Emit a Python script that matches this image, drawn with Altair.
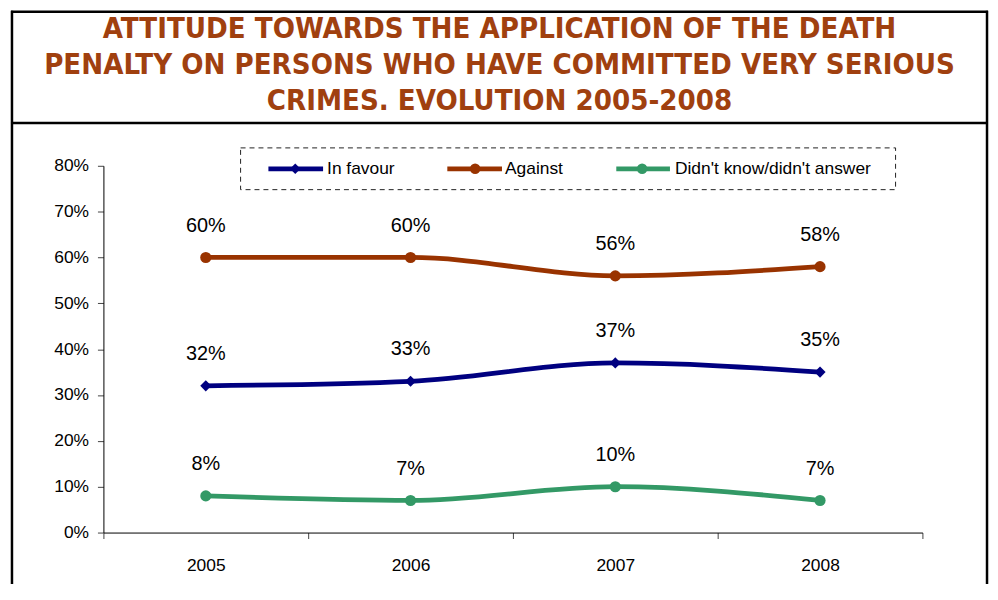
import altair as alt
import pandas as pd

years = ["2005", "2006", "2007", "2008"]
series_names = ["In favour", "Against", "Didn't know/didn't answer"]
in_favour = [32, 33, 37, 35]
against = [60, 60, 56, 58]
dont_know = [8, 7, 10, 7]
series_colors = ["#000080", "#993300", "#339966"]
series_shapes = ["diamond", "circle", "circle"]
title_lines = [
    "ATTITUDE TOWARDS THE APPLICATION OF THE DEATH",
    "PENALTY ON PERSONS WHO HAVE COMMITTED VERY SERIOUS",
    "CRIMES. EVOLUTION 2005-2008",
]

rows = []
for name, vals in zip(series_names, [in_favour, against, dont_know]):
    for y, v in zip(years, vals):
        rows.append({"year": y, "series": name, "value": v, "label": f"{v}%"})
df = pd.DataFrame(rows)

W, H = 824, 369
LABEL_FONT = "Liberation Sans, Arial, sans-serif"

x_enc = alt.X("year:N", sort=years, scale=alt.Scale(paddingInner=0, paddingOuter=0),
              axis=alt.Axis(title=None, labelAngle=0, tickBand="extent", tickSize=6,
                            labelPadding=18, labelFontSize=17.5, labelFont=LABEL_FONT,
                            labelColor="#000", domainColor="#000", tickColor="#444"))
y_enc = alt.Y("value:Q", scale=alt.Scale(domain=[0, 80], nice=False),
              axis=alt.Axis(title=None, values=list(range(0, 81, 10)), labelExpr="datum.value + '%'",
                            grid=False, tickSize=6, labelPadding=9, labelFontSize=17.5,
                            labelFont=LABEL_FONT, labelColor="#000", domainColor="#000",
                            tickColor="#444"))
color_enc = alt.Color("series:N", scale=alt.Scale(domain=series_names, range=series_colors), legend=None)

base = alt.Chart(df)
lines = base.mark_line(interpolate="monotone", strokeWidth=4.8).encode(x=x_enc, y=y_enc, color=color_enc)
points = base.mark_point(filled=True, size=125, opacity=1).encode(
    x=x_enc, y=y_enc, color=color_enc,
    shape=alt.Shape("series:N", scale=alt.Scale(domain=series_names, range=series_shapes), legend=None))
labels = base.mark_text(dy=-32, fontSize=20, font=LABEL_FONT, color="#000", baseline="middle").encode(
    x=x_enc, y=y_enc, text="label:N")

dummy = pd.DataFrame({"a": [0]})
frame_layers = []
for (x1, x2, y1, y2) in [(-93, 890, -155, -155), (-93, 890, -43, -43), (-92, -92, -156, 430), (889, 889, -156, 430)]:
    frame_layers.append(alt.Chart(dummy).mark_rule(color="#000", strokeWidth=2.5).encode(
        x=alt.value(x1), x2=alt.value(x2), y=alt.value(y1), y2=alt.value(y2)))

title = alt.Chart(dummy).mark_text(text=title_lines, lineHeight=36.5, fontSize=29.3, fontWeight="bold",
                                   font="DejaVu Sans Condensed, DejaVu Sans, sans-serif",
                                   color="#A0400F", align="center", baseline="alphabetic").encode(
    x=alt.value(398.5), y=alt.value(-129))

legend_box = alt.Chart(dummy).mark_rect(fillOpacity=0, stroke="#222", strokeWidth=1, strokeDash=[5, 4]).encode(
    x=alt.value(138), x2=alt.value(797), y=alt.value(-18), y2=alt.value(24))

legend_layers = [legend_box]
leg_pos = [(166, 221, 193, 225), (346, 401, 374, 404), (516, 570, 542, 575)]
for name, col, shp, (lx1, lx2, lc, tx) in zip(series_names, series_colors, series_shapes, leg_pos):
    d = pd.DataFrame({"s": [name]})
    legend_layers.append(alt.Chart(d).mark_rule(color=col, strokeWidth=4.8).encode(
        x=alt.value(lx1), x2=alt.value(lx2), y=alt.value(3)))
    legend_layers.append(alt.Chart(d).mark_point(color=col, shape=shp, filled=True, size=110, opacity=1).encode(
        x=alt.value(lc), y=alt.value(3)))
    legend_layers.append(alt.Chart(d).mark_text(align="left", baseline="middle", fontSize=17.5, font=LABEL_FONT,
                                                color="#000").encode(
        x=alt.value(tx), y=alt.value(3), text="s:N"))

chart = alt.layer(*frame_layers, title, *legend_layers, lines, points, labels).properties(
    width=W, height=H,
    autosize=alt.AutoSizeParams(type="none"),
    padding={"left": 96, "top": 157, "right": 68, "bottom": 50},
    background="white",
).configure_view(stroke=None)

chart.save("out.html", embed_options={"renderer": "svg", "actions": False})
